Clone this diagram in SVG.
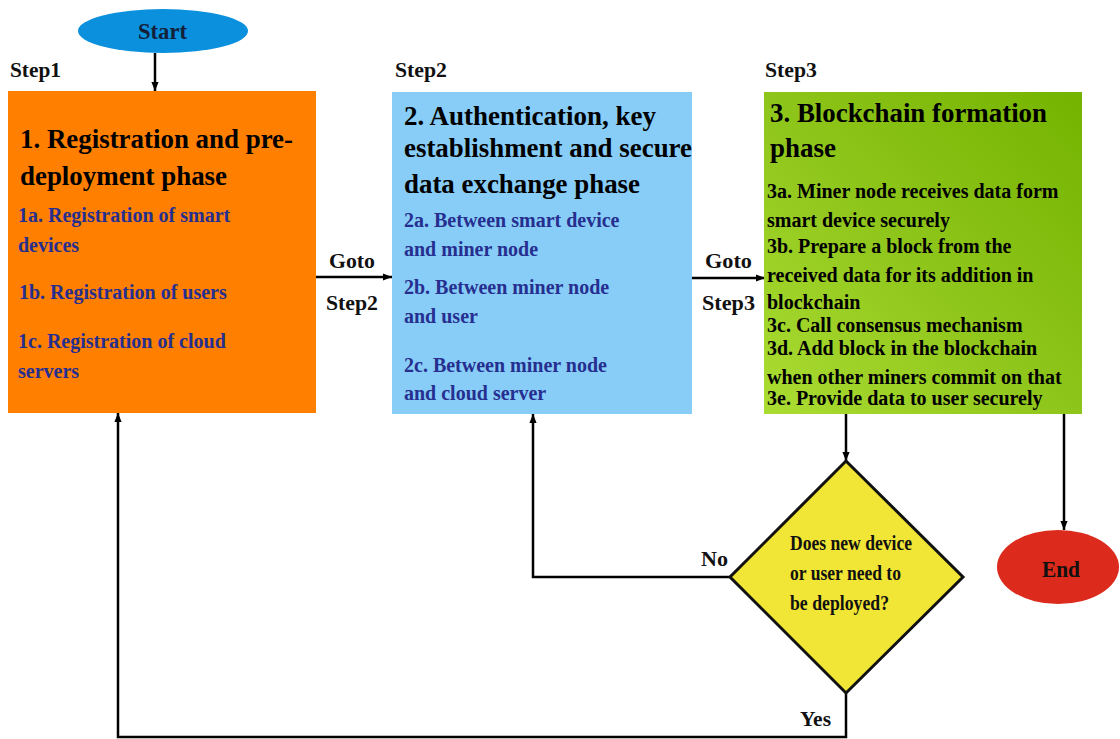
<svg xmlns="http://www.w3.org/2000/svg" width="1120" height="739" viewBox="0 0 1120 739">
  <defs>
    <marker id="arrow" viewBox="0 0 10 10" refX="10" refY="5" markerWidth="9" markerHeight="9" markerUnits="userSpaceOnUse" orient="auto">
      <path d="M0,1 L10,5 L0,9 Z" fill="#000"/>
    </marker>
    <linearGradient id="greenFill" x1="0" y1="1" x2="1" y2="0">
      <stop offset="0" stop-color="#abdc32"/>
      <stop offset="0.5" stop-color="#8ec51a"/>
      <stop offset="1" stop-color="#74b300"/>
    </linearGradient>
    <style>
      .step { font-size: 21px; fill: #111; }
      .title { font-size: 28px; fill: #000; }
      .item { font-size: 20px; fill: #262f8f; }
      .itemk { font-size: 20px; fill: #000; }
      .lbl { font-size: 22px; fill: #111; }
      .conn { fill: none; stroke: #000; stroke-width: 2.5; }
    </style>
  </defs>
  <rect width="1120" height="739" fill="#fff"/>

  <!-- connectors -->
  <g id="connectors">
    <line class="conn" x1="155" y1="53" x2="155" y2="91" marker-end="url(#arrow)"/>
    <line class="conn" x1="316" y1="277" x2="392" y2="277" marker-end="url(#arrow)"/>
    <line class="conn" x1="692" y1="278" x2="765" y2="278" marker-end="url(#arrow)"/>
    <line class="conn" x1="846" y1="414" x2="846" y2="461" marker-end="url(#arrow)"/>
    <line class="conn" x1="1064" y1="414" x2="1064" y2="530" marker-end="url(#arrow)"/>
    <polyline class="conn" points="730,577 533,577 533,414" marker-end="url(#arrow)"/>
    <polyline class="conn" points="846,693 846,737 118,737 118,413" marker-end="url(#arrow)"/>
    <text class="lbl" font-family="Liberation Serif" font-weight="bold" x="329" y="268" textLength="46" lengthAdjust="spacingAndGlyphs">Goto</text>
    <text class="lbl" font-family="Liberation Serif" font-weight="bold" x="326" y="310" textLength="52" lengthAdjust="spacingAndGlyphs">Step2</text>
    <text class="lbl" font-family="Liberation Serif" font-weight="bold" x="705" y="268" textLength="47" lengthAdjust="spacingAndGlyphs">Goto</text>
    <text class="lbl" font-family="Liberation Serif" font-weight="bold" x="702" y="310" textLength="53" lengthAdjust="spacingAndGlyphs">Step3</text>
    <text class="lbl" font-family="Liberation Serif" font-weight="bold" x="701" y="566" textLength="27" lengthAdjust="spacingAndGlyphs">No</text>
    <text class="lbl" font-family="Liberation Serif" font-weight="bold" x="800" y="726" textLength="31" lengthAdjust="spacingAndGlyphs">Yes</text>
  </g>

  <!-- start terminal -->
  <g id="start">
    <ellipse cx="163" cy="31" rx="85" ry="22" fill="#0a90dc"/>
    <text font-family="Liberation Serif" font-weight="bold" x="138" y="39" font-size="23" fill="#13203a" textLength="49" lengthAdjust="spacingAndGlyphs">Start</text>
  </g>

  <!-- step 1 -->
  <g id="step1">
    <text class="step" font-family="Liberation Serif" font-weight="bold" x="10" y="77" textLength="51" lengthAdjust="spacingAndGlyphs">Step1</text>
    <rect x="8" y="91" width="308" height="322" fill="#ff7f00"/>
    <text class="title" font-family="Liberation Serif" font-weight="bold" x="20" y="148" textLength="273" lengthAdjust="spacingAndGlyphs">1. Registration and pre-</text>
    <text class="title" font-family="Liberation Serif" font-weight="bold" x="20" y="185" textLength="207" lengthAdjust="spacingAndGlyphs">deployment phase</text>
    <text class="item" font-family="Liberation Serif" font-weight="bold" x="18" y="222">1a. Registration of smart</text>
    <text class="item" font-family="Liberation Serif" font-weight="bold" x="18" y="252">devices</text>
    <text class="item" font-family="Liberation Serif" font-weight="bold" x="19" y="299">1b. Registration of users</text>
    <text class="item" font-family="Liberation Serif" font-weight="bold" x="18" y="348">1c. Registration of cloud</text>
    <text class="item" font-family="Liberation Serif" font-weight="bold" x="18" y="378">servers</text>
  </g>

  <!-- step 2 -->
  <g id="step2">
    <text class="step" font-family="Liberation Serif" font-weight="bold" x="395" y="77" textLength="52" lengthAdjust="spacingAndGlyphs">Step2</text>
    <rect x="392" y="92" width="300" height="322" fill="#87cdf8"/>
    <text class="title" font-family="Liberation Serif" font-weight="bold" x="404" y="125" textLength="252" lengthAdjust="spacingAndGlyphs">2. Authentication, key</text>
    <text class="title" font-family="Liberation Serif" font-weight="bold" x="404" y="157" textLength="288" lengthAdjust="spacingAndGlyphs">establishment and secure</text>
    <text class="title" font-family="Liberation Serif" font-weight="bold" x="404" y="193" textLength="236" lengthAdjust="spacingAndGlyphs">data exchange phase</text>
    <text class="item" font-family="Liberation Serif" font-weight="bold" x="404" y="227">2a. Between smart device</text>
    <text class="item" font-family="Liberation Serif" font-weight="bold" x="404" y="256">and miner node</text>
    <text class="item" font-family="Liberation Serif" font-weight="bold" x="404" y="294">2b. Between miner node</text>
    <text class="item" font-family="Liberation Serif" font-weight="bold" x="404" y="323">and user</text>
    <text class="item" font-family="Liberation Serif" font-weight="bold" x="404" y="372">2c. Between miner node</text>
    <text class="item" font-family="Liberation Serif" font-weight="bold" x="404" y="400">and cloud server</text>
  </g>

  <!-- step 3 -->
  <g id="step3">
    <text class="step" font-family="Liberation Serif" font-weight="bold" x="765" y="77" textLength="52" lengthAdjust="spacingAndGlyphs">Step3</text>
    <rect x="764" y="92" width="318" height="322" fill="url(#greenFill)"/>
    <text class="title" font-family="Liberation Serif" font-weight="bold" x="770" y="122" textLength="277" lengthAdjust="spacingAndGlyphs">3. Blockchain formation</text>
    <text class="title" font-family="Liberation Serif" font-weight="bold" x="770" y="157" textLength="66" lengthAdjust="spacingAndGlyphs">phase</text>
    <text class="itemk" font-family="Liberation Serif" font-weight="bold" x="767" y="198">3a. Miner node receives data form</text>
    <text class="itemk" font-family="Liberation Serif" font-weight="bold" x="767" y="227">smart device securely</text>
    <text class="itemk" font-family="Liberation Serif" font-weight="bold" x="767" y="253">3b. Prepare a block from the</text>
    <text class="itemk" font-family="Liberation Serif" font-weight="bold" x="767" y="282">received data for its addition in</text>
    <text class="itemk" font-family="Liberation Serif" font-weight="bold" x="767" y="309">blockchain</text>
    <text class="itemk" font-family="Liberation Serif" font-weight="bold" x="767" y="332">3c. Call consensus mechanism</text>
    <text class="itemk" font-family="Liberation Serif" font-weight="bold" x="767" y="355">3d. Add block in the blockchain</text>
    <text class="itemk" font-family="Liberation Serif" font-weight="bold" x="767" y="384">when other miners commit on that</text>
    <text class="itemk" font-family="Liberation Serif" font-weight="bold" x="767" y="405">3e. Provide data to user securely</text>
  </g>

  <!-- decision -->
  <g id="decision">
    <polygon points="846,461 963,577 846,693 730,577" fill="#f1e635" stroke="#111" stroke-width="3" stroke-linejoin="miter"/>
    <text font-family="Liberation Serif" font-weight="bold" x="790" y="550" font-size="21" fill="#111" textLength="122" lengthAdjust="spacingAndGlyphs">Does new device</text>
    <text font-family="Liberation Serif" font-weight="bold" x="790" y="580" font-size="21" fill="#111" textLength="111" lengthAdjust="spacingAndGlyphs">or user need to</text>
    <text font-family="Liberation Serif" font-weight="bold" x="790" y="610" font-size="21" fill="#111" textLength="99" lengthAdjust="spacingAndGlyphs">be deployed?</text>
  </g>

  <!-- end terminal -->
  <g id="end">
    <ellipse cx="1058" cy="567" rx="61" ry="37" fill="#dc2a1c"/>
    <text font-family="Liberation Serif" font-weight="bold" x="1042" y="577" font-size="24" fill="#111" textLength="38" lengthAdjust="spacingAndGlyphs">End</text>
  </g>
</svg>
